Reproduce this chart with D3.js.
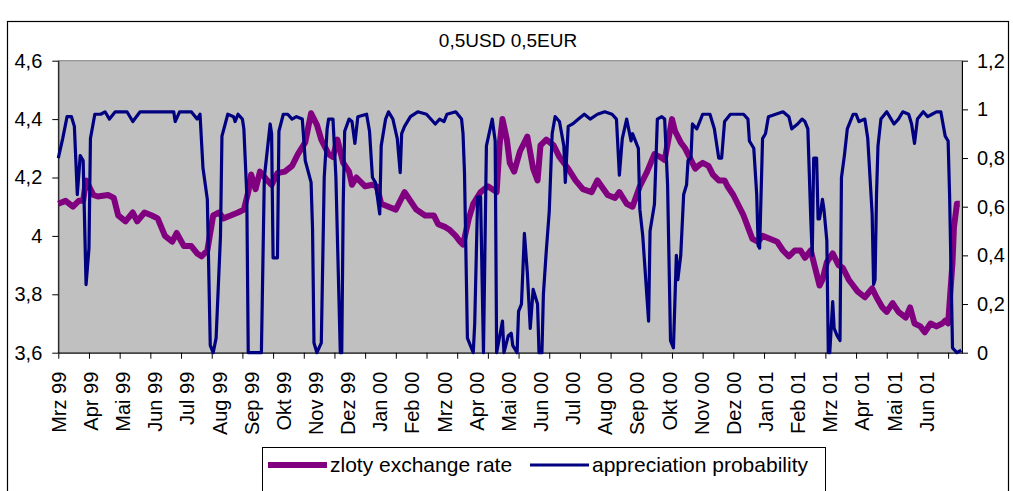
<!DOCTYPE html>
<html lang="de">
<head>
<meta charset="UTF-8">
<title>0,5USD 0,5EUR</title>
<script src="https://d3js.org/d3.v7.min.js"></script>
<style>
  body { margin: 0; background: #fff; }
  svg { display: block; font-family: Arial, "Liberation Sans", sans-serif; }
</style>
</head>
<body>
<svg id="chart" width="1013" height="491"></svg>
<script>
// category axis: one label every 22 trading days, one tick mark every 21
const monthLabels = ["Mrz 99", "Apr 99", "Mai 99", "Jun 99", "Jul 99", "Aug 99", "Sep 99", "Okt 99",
  "Nov 99", "Dez 99", "Jan 00", "Feb 00", "Mrz 00", "Apr 00", "Mai 00", "Jun 00", "Jul 00",
  "Aug 00", "Sep 00", "Okt 00", "Nov 00", "Dez 00", "Jan 01", "Feb 01", "Mrz 01", "Apr 01",
  "Mai 01", "Jun 01"];
const labelStep = 22;
const tickStep = 21;
const lastDay = 618.5;

const leftTicks = [3.6, 3.8, 4, 4.2, 4.4, 4.6];
const rightTicks = [0, 0.2, 0.4, 0.6, 0.8, 1, 1.2];

// [trading day, zloty rate] (left axis)
const zlotyRate = [[0,4.11],[5,4.12],[10,4.10],[14,4.12],[17,4.12],[19,4.19],[22,4.16],[24,4.14],[27,4.135],
  [34,4.14],[38,4.13],[41,4.07],[46,4.05],[51,4.08],[54,4.05],[59,4.08],[64,4.07],[68,4.06],[73,4.00],
  [78,3.98],[81,4.01],[86,3.965],[91,3.965],[95,3.94],[98,3.93],[102,3.95],[103,3.98],[106,4.07],
  [110,4.08],[113,4.06],[118,4.07],[123,4.08],[127,4.09],[130,4.15],[132,4.21],[135,4.16],[138,4.22],
  [143,4.19],[146,4.175],[150,4.215],[155,4.22],[160,4.24],[164,4.28],[169,4.32],[173,4.42],[177,4.38],
  [180,4.33],[185,4.28],[188,4.27],[191,4.33],[195,4.25],[199,4.22],[201,4.175],[204,4.20],[210,4.17],
  [215,4.175],[218,4.17],[221,4.11],[226,4.10],[231,4.09],[234,4.12],[237,4.15],[241,4.12],[245,4.09],
  [251,4.07],[257,4.07],[260,4.04],[265,4.03],[268,4.02],[272,4.00],[275,3.98],[277,3.97],[281,4.06],
  [284,4.11],[289,4.15],[294,4.17],[300,4.15],[302,4.31],[304,4.40],[307,4.33],[309,4.25],[312,4.22],
  [316,4.29],[321,4.34],[325,4.23],[328,4.19],[330,4.31],[334,4.33],[339,4.31],[343,4.27],[349,4.23],
  [354,4.19],[359,4.16],[365,4.15],[369,4.19],[376,4.14],[381,4.13],[384,4.15],[389,4.11],[393,4.10],
  [398,4.17],[403,4.22],[408,4.28],[412,4.27],[415,4.26],[419,4.37],[420,4.40],[422,4.36],[426,4.32],
  [429,4.30],[431,4.28],[434,4.25],[436,4.23],[438,4.24],[441,4.25],[445,4.24],[448,4.21],[452,4.19],
  [456,4.19],[458,4.17],[462,4.14],[465,4.11],[469,4.07],[472,4.03],[475,3.99],[479,3.98],[482,4.00],
  [487,3.99],[492,3.98],[496,3.95],[500,3.93],[504,3.95],[508,3.95],[511,3.925],[515,3.95],[518,3.89],
  [521,3.83],[523,3.85],[526,3.91],[530,3.94],[534,3.90],[537,3.89],[541,3.85],[544,3.83],[547,3.81],
  [552,3.79],[557,3.82],[560,3.79],[564,3.755],[567,3.74],[571,3.77],[575,3.74],[580,3.72],[583,3.755],
  [586,3.70],[590,3.69],[593,3.67],[597,3.70],[601,3.69],[605,3.70],[607,3.71],[609,3.70],[612,3.91],
  [613,4.03],[615,4.11],[617,4.11]];

// [trading day, appreciation probability] (right axis)
const apprProb = [[0,0.80],[3,0.88],[6,0.97],[9,0.97],[11,0.93],[13,0.65],[15,0.81],[17,0.79],[19,0.28],
  [21,0.43],[22,0.88],[25,0.98],[29,0.98],[32,0.99],[35,0.96],[39,0.99],[43,0.99],[47,0.99],[51,0.95],
  [56,0.99],[64,0.99],[79,0.99],[80,0.95],[83,0.99],[91,0.99],[95,0.96],[97,0.98],[99,0.76],[102,0.63],
  [104,0.03],[106,0.0],[108,0.06],[111,0.48],[112,0.89],[116,0.98],[120,0.97],[121,0.95],[123,0.98],
  [126,0.96],[127,0.92],[129,0.65],[130,0.0],[139,0.0],[141,0.72],[145,0.94],[146,0.90],[147,0.39],
  [150,0.39],[151,0.91],[154,0.98],[157,0.98],[160,0.96],[163,0.97],[167,0.96],[169,0.79],[173,0.70],
  [174,0.51],[175,0.04],[177,0.0],[180,0.04],[182,0.72],[184,0.92],[185,0.96],[188,0.96],[190,0.72],
  [192,0.24],[193,0.0],[194,0.0],[195,0.61],[196,0.91],[199,0.96],[201,0.95],[203,0.86],[205,0.97],
  [211,0.98],[213,0.91],[215,0.72],[217,0.70],[220,0.57],[221,0.85],[224,0.96],[226,0.99],[229,0.96],
  [232,0.88],[234,0.74],[235,0.90],[237,0.93],[241,0.97],[246,0.99],[252,0.98],[258,0.94],[261,0.96],
  [264,0.95],[266,0.98],[272,0.99],[276,0.96],[277,0.90],[278,0.74],[280,0.06],[284,0.0],[285,0.12],
  [287,0.64],[289,0.64],[291,0.0],[293,0.85],[297,0.96],[299,0.87],[300,0.0],[304,0.13],[305,0.0],
  [308,0.07],[310,0.08],[311,0.03],[314,0.0],[315,0.17],[317,0.20],[319,0.49],[321,0.33],[323,0.10],
  [325,0.26],[328,0.20],[329,0.0],[331,0.0],[332,0.24],[334,0.42],[336,0.58],[338,0.90],[340,0.97],
  [343,0.95],[346,0.85],[347,0.70],[349,0.93],[352,0.94],[356,0.96],[360,0.98],[364,0.96],[369,0.98],
  [374,0.99],[379,0.98],[382,0.96],[384,0.73],[386,0.88],[389,0.96],[392,0.87],[393,0.90],[397,0.84],
  [398,0.59],[400,0.48],[404,0.13],[405,0.50],[408,0.61],[410,0.96],[413,0.97],[415,0.96],[417,0.69],
  [419,0.05],[421,0.02],[423,0.40],[424,0.30],[426,0.40],[428,0.65],[430,0.69],[431,0.79],[433,0.80],
  [434,0.94],[437,0.92],[439,0.95],[441,0.98],[446,0.98],[449,0.92],[452,0.80],[454,0.80],[456,0.95],
  [460,0.98],[465,0.98],[469,0.98],[472,0.96],[473,0.87],[476,0.84],[478,0.65],[479,0.44],[480,0.43],
  [482,0.88],[484,0.90],[486,0.97],[491,0.98],[496,0.99],[500,0.97],[502,0.92],[506,0.94],[509,0.96],
  [511,0.95],[513,0.92],[515,0.55],[516,0.40],[517,0.80],[519,0.80],[520,0.55],[521,0.55],[523,0.63],
  [524,0.59],[526,0.46],[527,0.0],[528,0.0],[530,0.21],[531,0.10],[533,0.07],[535,0.05],[536,0.72],
  [538,0.81],[540,0.92],[544,0.98],[546,0.98],[548,0.95],[552,0.96],[554,0.88],[557,0.57],[558,0.28],
  [559,0.30],[560,0.65],[561,0.85],[563,0.96],[567,0.99],[570,0.96],[572,0.94],[575,0.96],[578,0.99],
  [582,0.98],[584,0.94],[586,0.86],[588,0.96],[592,0.99],[595,0.97],[598,0.98],[601,0.99],[604,0.99],
  [607,0.89],[609,0.87],[610,0.65],[612,0.02],[615,0.0],[618,0.01]];

const purple = "#800080";
const navy = "#000080";

const svg = d3.select("#chart");
const plot = { left: 58.3, right: 962, top: 60.7, bottom: 352.7 };

const x = d3.scaleLinear().domain([0, lastDay]).range([plot.left, plot.right]);
const yLeft = d3.scaleLinear().domain([3.6, 4.6]).range([plot.bottom, plot.top]);
const yRight = d3.scaleLinear().domain([0, 1.2]).range([plot.bottom, plot.top]);

const comma = d => String(d).replace(".", ",");

// outer chart frame
svg.append("rect")
    .attr("x", 7.5).attr("y", 21.5)
    .attr("width", 1001).attr("height", 500)
    .attr("fill", "#fff").attr("stroke", "#000").attr("stroke-width", 1.2);

// title
svg.append("text")
    .attr("x", 508).attr("y", 47)
    .attr("text-anchor", "middle")
    .style("font-size", "19px")
    .text("0,5USD 0,5EUR");

// plot area
svg.append("rect")
    .attr("x", plot.left).attr("y", plot.top)
    .attr("width", plot.right - plot.left).attr("height", plot.bottom - plot.top)
    .attr("fill", "#c0c0c0").attr("stroke", "#808080").attr("stroke-width", 1);

// axes
const styleAxis = g => {
    g.selectAll("path, line").attr("stroke", "#000");
    g.selectAll("text").attr("fill", "#000").style("font-size", "20px").attr("font-family", null);
};

svg.append("g")
    .attr("transform", `translate(${plot.left},0)`)
    .call(d3.axisLeft(yLeft).tickValues(leftTicks).tickFormat(comma).tickSize(6).tickSizeOuter(0).tickPadding(10))
    .call(styleAxis);

svg.append("g")
    .attr("transform", `translate(${plot.right},0)`)
    .call(d3.axisRight(yRight).tickValues(rightTicks).tickFormat(comma).tickSize(6).tickSizeOuter(0).tickPadding(9))
    .call(styleAxis);

svg.append("g")
    .attr("transform", `translate(0,${plot.bottom})`)
    .call(d3.axisBottom(x).tickValues(d3.range(0, lastDay, tickStep)).tickFormat("").tickSize(6).tickSizeOuter(0))
    .call(styleAxis);

const labelAxis = svg.append("g")
    .attr("transform", `translate(0,${plot.bottom})`)
    .call(d3.axisBottom(x)
        .tickValues(monthLabels.map((m, i) => i * labelStep))
        .tickFormat((d, i) => monthLabels[i])
        .tickSize(0))
    .call(styleAxis);
labelAxis.select(".domain").remove();
labelAxis.selectAll("text")
    .attr("transform", "rotate(-90)")
    .attr("x", -19)
    .attr("y", 0)
    .attr("dy", "0.35em")
    .attr("text-anchor", "end");

// series
const rateLine = d3.line().x(d => x(d[0])).y(d => yLeft(d[1]));
const probLine = d3.line().x(d => x(d[0])).y(d => yRight(d[1]));

svg.append("path")
    .datum(zlotyRate)
    .attr("d", rateLine)
    .attr("fill", "none")
    .attr("stroke", purple)
    .attr("stroke-width", 6)
    .attr("stroke-linejoin", "round");

svg.append("path")
    .datum(apprProb)
    .attr("d", probLine)
    .attr("fill", "none")
    .attr("stroke", navy)
    .attr("stroke-width", 3.2)
    .attr("stroke-linejoin", "round");

// legend
const legend = svg.append("g");
legend.append("rect")
    .attr("x", 262.5).attr("y", 447.5)
    .attr("width", 563).attr("height", 60)
    .attr("fill", "#fff").attr("stroke", "#000").attr("stroke-width", 1);

const legendItems = [
    { name: "zloty exchange rate", color: purple, width: 6, x0: 268 },
    { name: "appreciation probability", color: navy, width: 3.2, x0: 530 }
];
legendItems.forEach(item => {
    legend.append("line")
        .attr("x1", item.x0).attr("x2", item.x0 + 59)
        .attr("y1", 465).attr("y2", 465)
        .attr("stroke", item.color).attr("stroke-width", item.width);
    legend.append("text")
        .attr("x", item.x0 + 62).attr("y", 472)
        .style("font-size", "21px")
        .text(item.name);
});
</script>
</body>
</html>
